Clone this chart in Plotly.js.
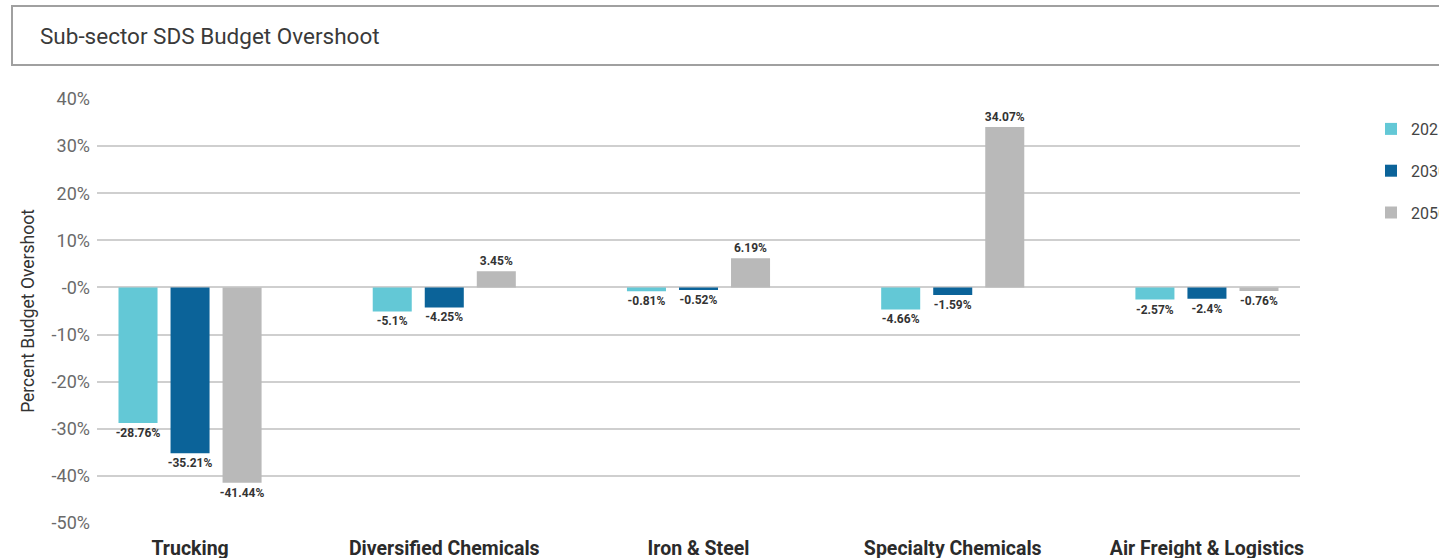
<!DOCTYPE html>
<html>
<head>
<meta charset="utf-8">
<script src="https://cdn.plot.ly/plotly-3.0.1.min.js"></script>
<style>
  html, body { margin: 0; padding: 0; overflow: hidden; background: #fff; }
  #chart { width: 1480px; height: 558px; }
</style>
</head>
<body>
<div id="chart"></div>
<script>
// Sub-sectors and their budget overshoot (%) per scenario year
const sectors = ["Trucking", "Diversified Chemicals", "Iron & Steel", "Specialty Chemicals", "Air Freight & Logistics"];
const years = ["2025", "2030", "2050"];
const overshoot2025 = [-28.76, -5.1, -0.81, -4.66, -2.57];
const overshoot2030 = [-35.21, -4.25, -0.52, -1.59, -2.4];
const overshoot2050 = [-41.44, 3.45, 6.19, 34.07, -0.76];
const yTickVals = [40, 30, 20, 10, 0, -10, -20, -30, -40, -50];
const yTickText = ["40%", "30%", "20%", "10%", "-0%", "-10%", "-20%", "-30%", "-40%", "-50%"];

const colors = ["#63c8d6", "#0b6399", "#b9b9b9"];
const series = [overshoot2025, overshoot2030, overshoot2050];

const traces = series.map((vals, i) => ({
  type: "bar",
  name: years[i],
  x: sectors,
  y: vals,
  text: vals.map(v => v + "%"),
  textposition: "outside",
  constraintext: "none",
  cliponaxis: false,
  textfont: { family: "Roboto, sans-serif", size: 12, color: "#333", weight: "bold" },
  marker: { color: colors[i] },
  legendgroup: "g" + i,
  hoverinfo: "x+y+name"
}));

const W = 1480, H = 558;
const plotL = 97, plotR = 1300, plotT = 99, plotB = 523;
const pw = plotR - plotL, ph = plotB - plotT;

const layout = {
  width: W,
  height: H,
  margin: { l: plotL, r: W - plotR, t: plotT, b: H - plotB },
  paper_bgcolor: "#fff",
  plot_bgcolor: "#fff",
  font: { family: "Roboto, sans-serif", color: "#333" },
  title: {
    text: "Sub-sector SDS Budget Overshoot",
    font: { size: 22.5, color: "#3a3a3a" },
    xref: "container", yref: "container",
    x: 40 / W, xanchor: "left",
    y: 1 - 36 / H, yanchor: "middle"
  },
  barmode: "group",
  bargap: 0.386,
  bargroupgap: 0.25,
  xaxis: {
    type: "category",
    range: [-0.366, 4.366],
    showgrid: false,
    zeroline: false,
    showline: false,
    ticks: "",
    ticklabelstandoff: 11,
    tickfont: { size: 19.5, color: "#2b2b2b", weight: "bold" }
  },
  yaxis: {
    range: [-50, 40],
    tickvals: yTickVals,
    ticktext: yTickText,
    showgrid: true,
    gridcolor: "#cfcfcf",
    gridwidth: 1.5,
    zeroline: false,
    showline: false,
    ticks: "",
    ticklabelstandoff: 6,
    tickfont: { size: 18, color: "#6a6a6a" },
    title: {
      text: "Percent Budget Overshoot",
      font: { size: 17.5, color: "#333" },
      standoff: 12
    }
  },
  showlegend: true,
  legend: {
    x: (1371 - plotL) / pw,
    xanchor: "left",
    y: (plotB - 112) / ph,
    yanchor: "top",
    traceorder: "grouped",
    tracegroupgap: 18,
    font: { size: 16, color: "#444" },
    itemwidth: 30,
    bgcolor: "rgba(0,0,0,0)"
  },
  shapes: [{
    type: "rect",
    xref: "paper", yref: "paper",
    x0: (12 - plotL) / pw, x1: 1.3,
    y0: (plotB - 65) / ph, y1: (plotB - 6) / ph,
    line: { color: "#a0a0a0", width: 2 },
    fillcolor: "rgba(0,0,0,0)",
    layer: "below"
  }]
};

Plotly.newPlot("chart", traces, layout, { displayModeBar: false, responsive: false });
</script>
</body>
</html>
